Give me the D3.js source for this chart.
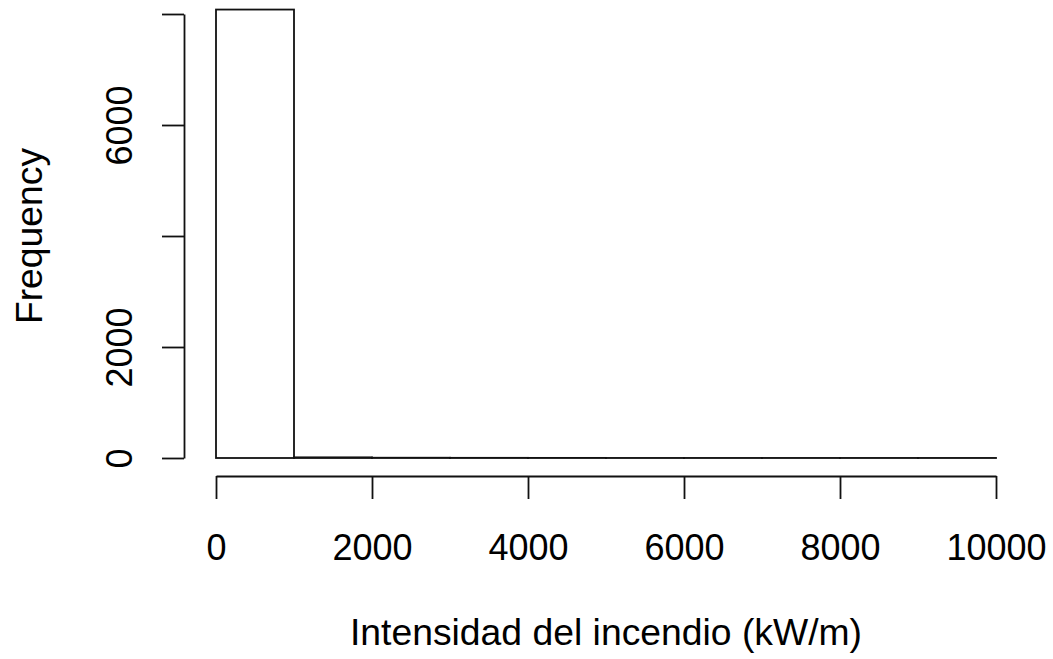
<!DOCTYPE html>
<html>
<head>
<meta charset="utf-8">
<script src="https://cdn.jsdelivr.net/npm/d3@7"></script>
<style>
  html, body { margin: 0; padding: 0; background: #fff; }
  svg { display: block; }
  text { font-family: "Liberation Sans", Arial, Helvetica, sans-serif; fill: #000; }
</style>
</head>
<body>
<svg id="chart" width="1053" height="659"></svg>
<script>
// Histogram of fire intensity, bins of 1000 kW/m
const binStarts = [0, 1000, 2000, 3000, 4000, 5000, 6000, 7000, 8000, 9000];
const binWidth = 1000;
const counts = [8080, 12, 5, 3, 2, 1, 1, 1, 1, 1];
const xTicks = [0, 2000, 4000, 6000, 8000, 10000];
const yTicks = [0, 2000, 4000, 6000, 8000];
const yTickLabels = ["0", "2000", "", "6000", ""];
const xTitle = "Intensidad del incendio (kW/m)";
const yTitle = "Frequency";

const svg = d3.select("#chart");
const tickFont = 36;
const titleFont = 37.3;
const strokeW = 1.8;

const x = d3.scaleLinear().domain([0, 10000]).range([216, 996]);
const y = d3.scaleLinear().domain([0, 8000]).range([458, 14]);

// bars
svg.append("g")
  .selectAll("rect")
  .data(binStarts)
  .join("rect")
  .attr("x", d => x(d))
  .attr("width", d => x(d + binWidth) - x(d))
  .attr("y", (d, i) => y(counts[i]))
  .attr("height", (d, i) => y(0) - y(counts[i]))
  .attr("fill", "none")
  .attr("stroke", "#111")
  .attr("stroke-width", strokeW);

// x axis, offset below the bars
const gx = svg.append("g")
  .attr("transform", "translate(0,476)")
  .call(d3.axisBottom(x).tickValues(xTicks).tickSize(23).tickSizeOuter(0)
    .tickFormat(d3.format("d")));
gx.selectAll("path, line").attr("stroke", "#111").attr("stroke-width", strokeW);
gx.selectAll("text").attr("font-size", tickFont).attr("dy", null).attr("y", 84)
  .style("font-family", "'Liberation Sans', Arial, sans-serif").attr("fill", "#000");

// y axis, offset left of the bars
const gy = svg.append("g")
  .attr("transform", "translate(184,0)")
  .call(d3.axisLeft(y).tickValues(yTicks).tickSize(22).tickSizeOuter(0)
    .tickFormat((d, i) => yTickLabels[i]));
gy.selectAll("path, line").attr("stroke", "#111").attr("stroke-width", strokeW);
gy.selectAll("text")
  .attr("font-size", tickFont)
  .style("font-family", "'Liberation Sans', Arial, sans-serif")
  .attr("fill", "#000")
  .attr("x", null).attr("dy", null)
  .attr("text-anchor", "middle")
  .attr("transform", "translate(-52,0) rotate(-90)");

// axis titles
svg.append("text")
  .attr("x", (x(0) + x(10000)) / 2)
  .attr("y", 645)
  .attr("text-anchor", "middle")
  .attr("font-size", titleFont)
  .text(xTitle);

svg.append("text")
  .attr("transform", `translate(42,${(y(0) + y(8000)) / 2}) rotate(-90)`)
  .attr("text-anchor", "middle")
  .attr("font-size", titleFont)
  .text(yTitle);
</script>
</body>
</html>
